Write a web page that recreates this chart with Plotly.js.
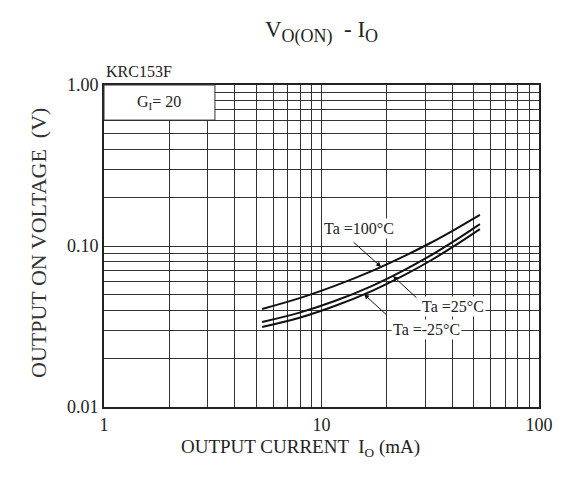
<!DOCTYPE html>
<html><head><meta charset="utf-8">
<script src="https://cdn.plot.ly/plotly-3.0.1.min.js"></script>
<style>html,body{margin:0;padding:0;background:#fff}#c{width:565px;height:486px}</style>
</head><body><div id="c"></div>
<script>
// Data
const current = [5.33, 8, 11.5, 17, 24, 31.5, 41, 53.5];
const v100 = [0.0406, 0.0476, 0.0565, 0.0698, 0.0865, 0.1040, 0.1265, 0.1560];
const v25  = [0.0337, 0.0387, 0.0455, 0.0564, 0.0708, 0.0867, 0.1079, 0.1368];
const vm25 = [0.0314, 0.0360, 0.0424, 0.0525, 0.0659, 0.0807, 0.1005, 0.1274];
const seriesNames = ['Ta =100°C', 'Ta =25°C', 'Ta =-25°C'];
const xTickVals = [1, 10, 100];
const xTickText = ['1', '10', '100'];
const xMinorVals = [2,3,4,5,6,7,8,9,20,30,40,50,60,70,80,90];
const yTickVals = [0.01, 0.1, 1];
const yTickText = ['0.01', '0.10', '1.00'];
const yMinorVals = [0.02,0.03,0.04,0.05,0.06,0.07,0.08,0.09,0.2,0.3,0.4,0.5,0.6,0.7,0.8,0.9];

const font = {family: 'Liberation Serif, Times New Roman, serif', color: '#222'};
const f = s => Object.assign({size: s}, font);
const curveLine = {color: '#111', width: 2, shape: 'spline', smoothing: 1};
const traces = [
  {x: current, y: v100, name: seriesNames[0], mode: 'lines', line: curveLine},
  {x: current, y: v25, name: seriesNames[1], mode: 'lines', line: curveLine},
  {x: current, y: vm25, name: seriesNames[2], mode: 'lines', line: curveLine}
];
const gridc = '#333';
const axisCommon = {
  type: 'log', ticks: '', showgrid: true, gridcolor: gridc, gridwidth: 1, zeroline: false,
  showline: true, linecolor: '#222', linewidth: 2, mirror: true, tickfont: f(18)
};
const layout = {
  width: 565, height: 486,
  margin: {l: 104, r: 26, t: 85, b: 79},
  paper_bgcolor: '#fff', plot_bgcolor: '#fff',
  showlegend: false,
  font: f(17),
  title: {text: 'V<sub><span style="font-size:18px">O(ON)</span></sub>  - I<sub><span style="font-size:18px">O</span></sub>',
    font: f(23), xref: 'paper', x: 0.5, xanchor: 'center', yref: 'container', y: 0.94, yanchor: 'middle'},
  xaxis: Object.assign({}, axisCommon, {range: [0, 2], tickmode: 'array', tickvals: xTickVals, ticktext: xTickText,
    minor: {tickmode: 'array', tickvals: xMinorVals, showgrid: true, gridcolor: gridc, gridwidth: 1, ticks: ''}}),
  yaxis: Object.assign({}, axisCommon, {range: [-2, 0], tickmode: 'array', tickvals: yTickVals, ticktext: yTickText,
    minor: {tickmode: 'array', tickvals: yMinorVals, showgrid: true, gridcolor: gridc, gridwidth: 1, ticks: ''}}),
  shapes: [
    {type: 'rect', xref: 'paper', yref: 'paper', x0: 0, x1: 0.255, y0: 0.891, y1: 1,
     fillcolor: '#fff', line: {color: '#333', width: 1}, layer: 'above'}
  ],
  annotations: [
    {xref: 'paper', yref: 'paper', x: 0.451, y: -0.126, xanchor: 'center', yanchor: 'middle',
     text: 'OUTPUT CURRENT  I<sub>O</sub> (mA)', showarrow: false, font: f(19)},
    {xref: 'paper', yref: 'paper', x: -0.152, y: 0.509, xanchor: 'center', yanchor: 'middle', textangle: -90,
     text: 'OUTPUT ON VOLTAGE  (V)', showarrow: false, font: Object.assign(f(22), {color: '#333'})},
    {xref: 'paper', yref: 'paper', x: 0, y: 1, yshift: 3, xanchor: 'left', yanchor: 'bottom',
     text: 'KRC153F', showarrow: false, font: f(16)},
    {xref: 'paper', yref: 'paper', x: 0.1275, y: 0.945, xanchor: 'center', yanchor: 'middle',
     text: 'G<sub>I</sub>= 20', showarrow: false, font: f(16)},
    // label texts
    {x: Math.log10(14.9), y: Math.log10(0.129), text: seriesNames[0], showarrow: false, bgcolor: '#fff', font: f(16)},
    {x: Math.log10(40.2), y: Math.log10(0.0418), text: seriesNames[1], showarrow: false, bgcolor: '#fff', font: f(16)},
    {x: Math.log10(30.5), y: Math.log10(0.0301), text: seriesNames[2], showarrow: false, bgcolor: '#fff', font: f(16)},
    // arrows
    {x: Math.log10(18.8), y: Math.log10(0.0741), text: '', showarrow: true, ax: -29, ay: -26,
     arrowhead: 2, arrowsize: 1, arrowwidth: 1, arrowcolor: '#111', standoff: 0},
    {x: Math.log10(21.3), y: Math.log10(0.0651), text: '', showarrow: true, ax: 25, ay: 23,
     arrowhead: 2, arrowsize: 1, arrowwidth: 1, arrowcolor: '#111', standoff: 0},
    {x: Math.log10(15.7), y: Math.log10(0.0501), text: '', showarrow: true, ax: 24, ay: 22,
     arrowhead: 2, arrowsize: 1, arrowwidth: 1, arrowcolor: '#111', standoff: 0}
  ]
};
Plotly.newPlot('c', traces, layout, {displayModeBar: false, staticPlot: true});
</script></body></html>
